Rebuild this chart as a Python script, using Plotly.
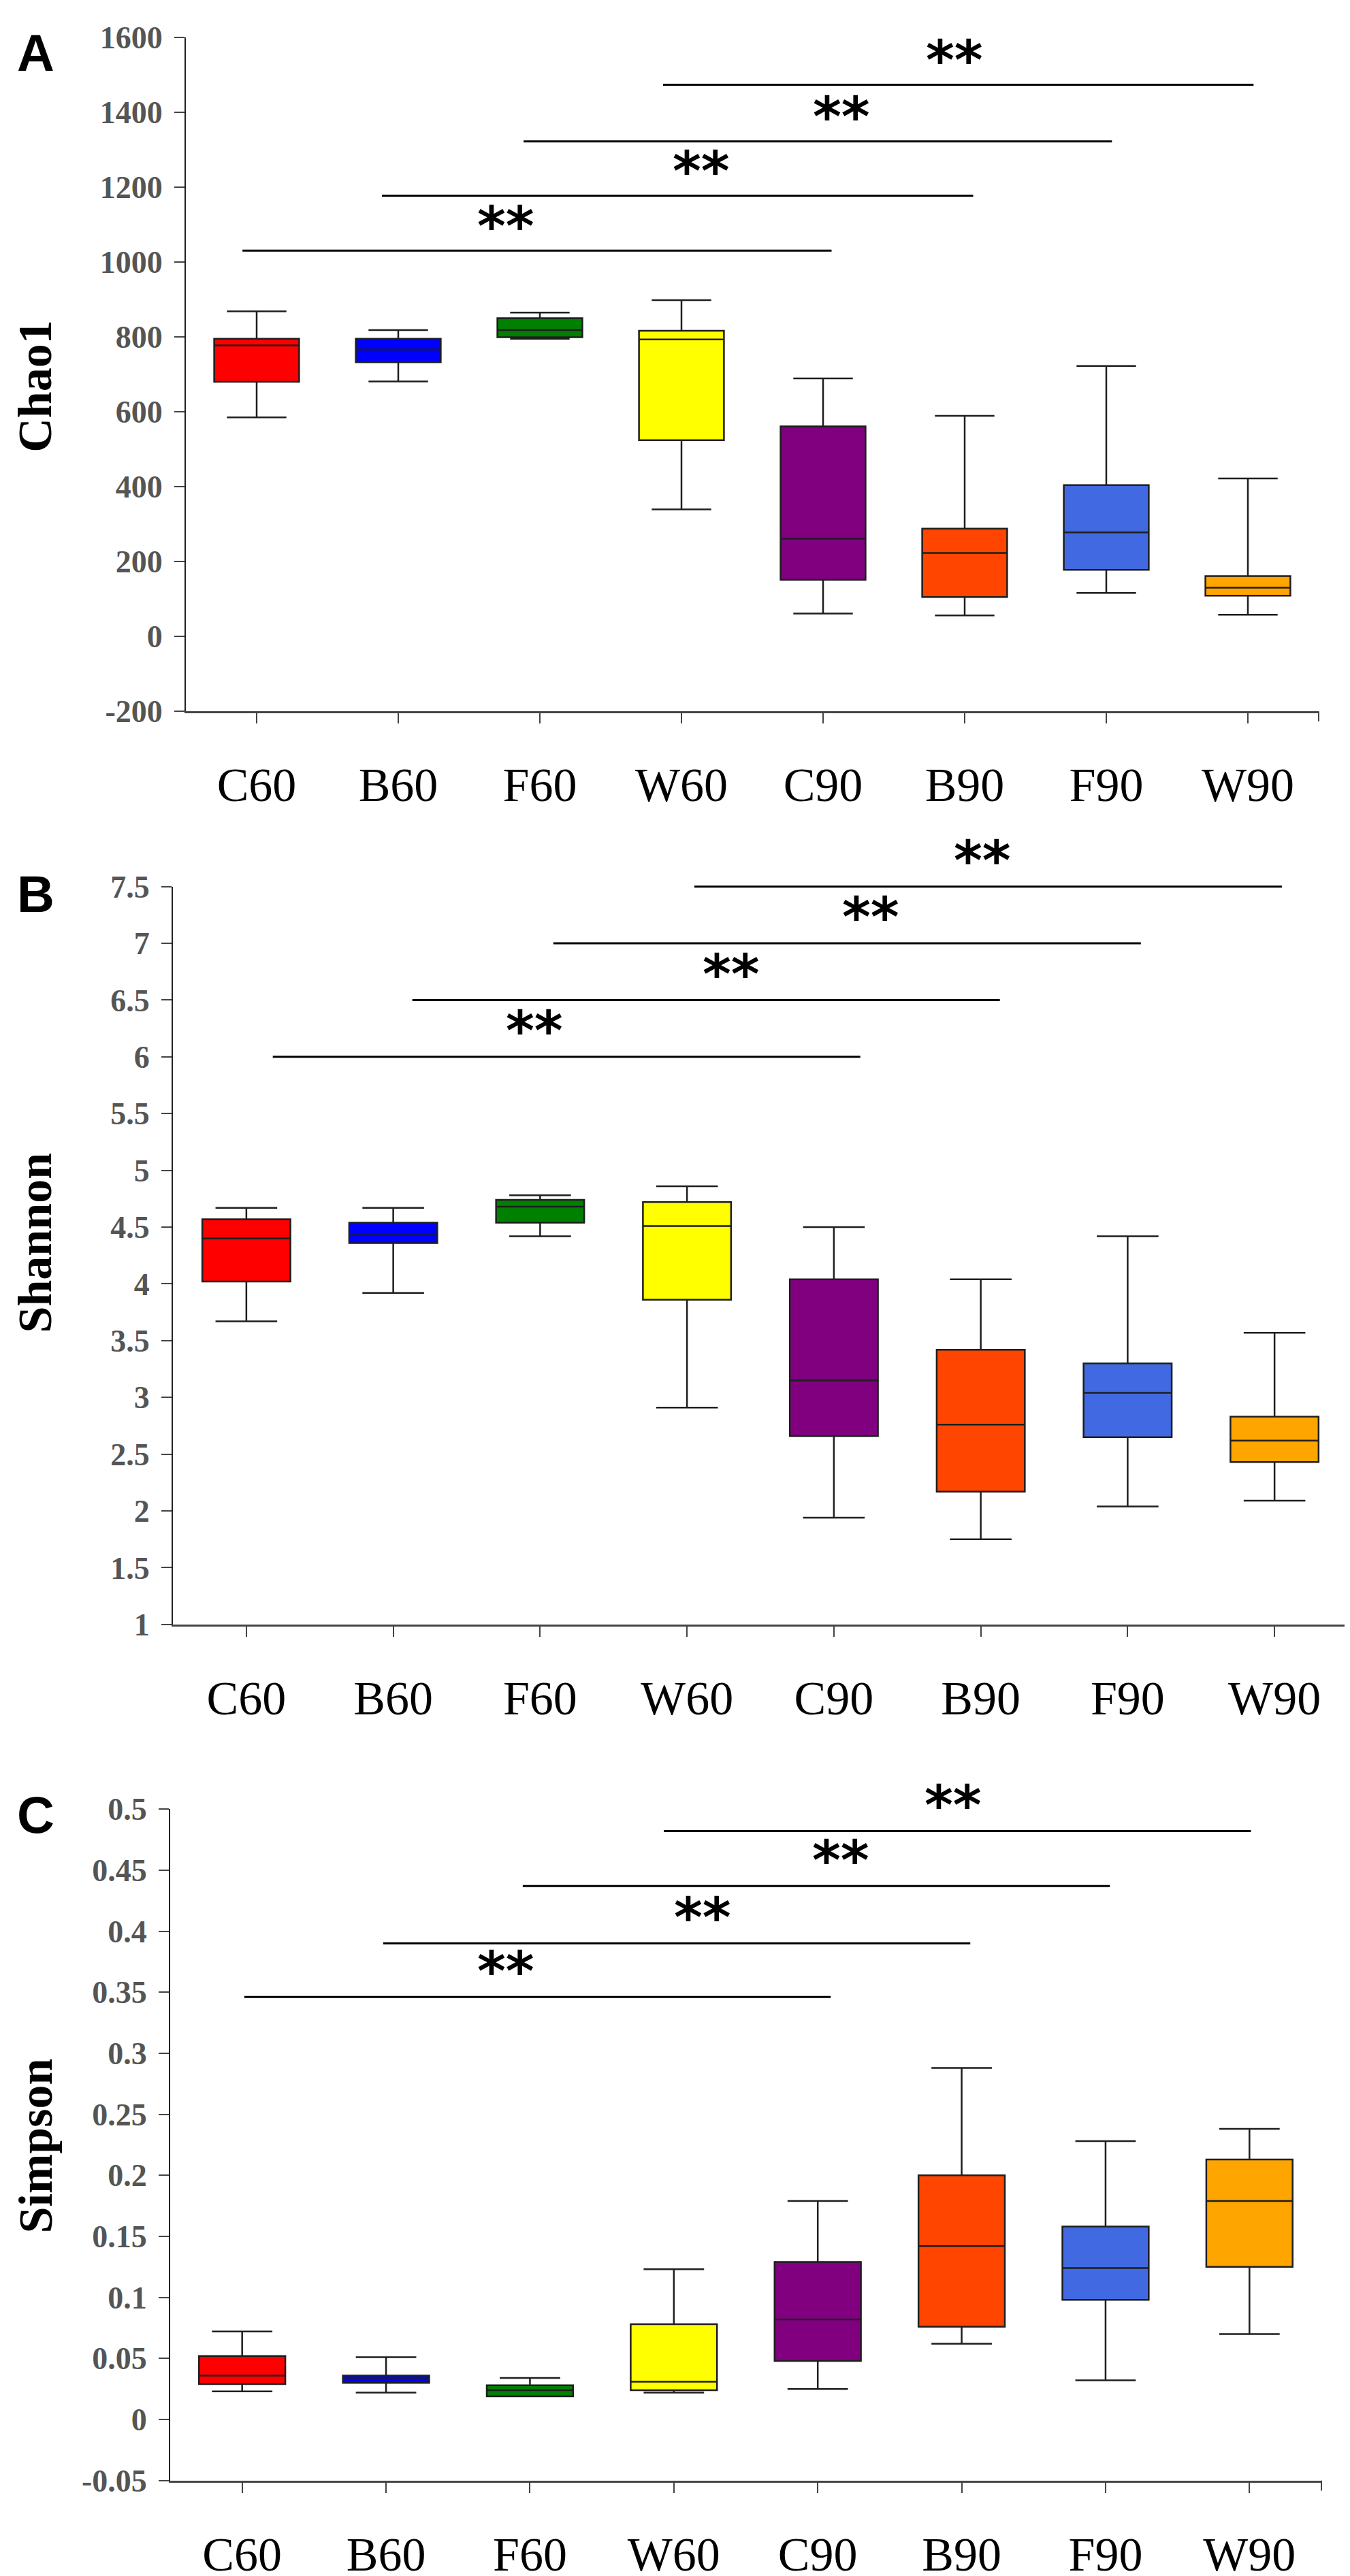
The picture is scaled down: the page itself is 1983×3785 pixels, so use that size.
import plotly.graph_objects as go

W, H = 1983, 3785

groups = ['C60', 'B60', 'F60', 'W60', 'C90', 'B90', 'F90', 'W90']
colors = ['#FF0000', '#0000FF', '#008000', '#FFFF00', '#800080', '#FF4500', '#4169E1', '#FFA500']

# Chao1 (panel A)
chao1_low = [585, 681, 795, 339, 61, 56, 116, 58]
chao1_q1 = [680, 732, 799, 524, 151, 105, 178, 109]
chao1_med = [777, 766, 818, 793, 261, 223, 278, 130]
chao1_q3 = [795, 795, 850, 816, 561, 288, 404, 161]
chao1_high = [868, 818, 865, 898, 689, 589, 722, 422]

# Shannon (panel B)
shannon_low = [3.67, 3.92, 4.42, 2.91, 1.94, 1.75, 2.04, 2.09]
shannon_q1 = [4.02, 4.36, 4.54, 3.86, 2.66, 2.17, 2.65, 2.43]
shannon_med = [4.40, 4.43, 4.68, 4.51, 3.15, 2.76, 3.04, 2.62]
shannon_q3 = [4.57, 4.54, 4.74, 4.72, 4.04, 3.42, 3.30, 2.83]
shannon_high = [4.67, 4.67, 4.78, 4.86, 4.50, 4.04, 4.42, 3.57]

# Simpson (panel C)
simpson_low = [0.023, 0.022, 0.019, 0.022, 0.025, 0.062, 0.032, 0.070]
simpson_q1 = [0.029, 0.030, 0.019, 0.024, 0.048, 0.076, 0.098, 0.125]
simpson_med = [0.036, 0.033, 0.024, 0.031, 0.082, 0.142, 0.124, 0.179]
simpson_q3 = [0.052, 0.036, 0.028, 0.078, 0.129, 0.200, 0.158, 0.213]
simpson_high = [0.072, 0.051, 0.034, 0.123, 0.179, 0.288, 0.228, 0.238]

# significance brackets: (from group, to group) pairs and the level of each line
pairs = [('C60', 'C90'), ('B60', 'B90'), ('F60', 'F90'), ('W60', 'W90')]
chao1_bracket_y = [1030, 1177, 1322, 1473]
shannon_bracket_y = [6.0, 6.5, 7.0, 7.5]
simpson_bracket_y = [0.346, 0.39, 0.437, 0.482]
sig_label = '**'

chao1_ticks = [-200, 0, 200, 400, 600, 800, 1000, 1200, 1400, 1600]
shannon_ticks = [1, 1.5, 2, 2.5, 3, 3.5, 4, 4.5, 5, 5.5, 6, 6.5, 7, 7.5]
shannon_ticktext = ['1', '1.5', '2', '2.5', '3', '3.5', '4', '4.5', '5', '5.5', '6', '6.5', '7', '7.5']
simpson_ticks = [-0.05, 0, 0.05, 0.1, 0.15, 0.2, 0.25, 0.3, 0.35, 0.4, 0.45, 0.5]
simpson_ticktext = ['-0.05', '0', '0.05', '0.1', '0.15', '0.2', '0.25', '0.3', '0.35', '0.4', '0.45', '0.5']

SERIF = 'Liberation Serif'
SANS = 'Liberation Sans'


def px_x(p):
    return p / W


def px_y(p):
    return 1 - p / H


panels = [
    dict(key='', title='Chao1', letter='A',
         stats=(chao1_low, chao1_q1, chao1_med, chao1_q3, chao1_high),
         yrange=[-200, 1600], tickvals=chao1_ticks, ticktext=[str(t) for t in chao1_ticks],
         brackets=chao1_bracket_y,
         # pixel box of the plot area: left, right, top, bottom
         box=(265, 1929, 22, 1026),
         bx=[(-0.10, 4.06), (0.885, 5.06), (1.885, 6.04), (2.87, 7.04)],
         star_x=[1.76, 3.14, 4.13, 4.93], star_dy=66,
         title_y=542, letter_y=45),
    dict(key='2', title='Shannon', letter='B',
         stats=(shannon_low, shannon_q1, shannon_med, shannon_q3, shannon_high),
         yrange=[1, 7.5], tickvals=shannon_ticks, ticktext=shannon_ticktext,
         brackets=shannon_bracket_y,
         box=(246, 1972, 1287, 2386),
         bx=[(0.18, 4.18), (1.13, 5.13), (2.09, 6.09), (3.05, 7.05)],
         star_x=[1.96, 3.30, 4.25, 5.01], star_dy=0.23,
         title_y=1818, letter_y=1298),
    dict(key='3', title='Simpson', letter='C',
         stats=(simpson_low, simpson_q1, simpson_med, simpson_q3, simpson_high),
         yrange=[-0.05, 0.5], tickvals=simpson_ticks, ticktext=simpson_ticktext,
         brackets=simpson_bracket_y,
         box=(242, 1933, 2661, 3661),
         bx=[(0.015, 4.09), (0.98, 5.06), (1.95, 6.03), (2.93, 7.01)],
         star_x=[1.83, 3.20, 4.16, 4.94], star_dy=0.021,
         title_y=3163, letter_y=2669),
]

fig = go.Figure()
shapes = []
annotations = []
layout = {}

for p in panels:
    xa, ya = 'x' + p['key'], 'y' + p['key']
    low, q1, med, q3, high = p['stats']
    for i, g in enumerate(groups):
        fig.add_trace(go.Box(
            x=[g], lowerfence=[low[i]], q1=[q1[i]], median=[med[i]], q3=[q3[i]], upperfence=[high[i]],
            orientation='v', fillcolor=colors[i], line=dict(color='#1e1e1e', width=2.5),
            width=0.6, whiskerwidth=0.7, showlegend=False, xaxis=xa, yaxis=ya,
        ))

    left, right, top, bottom = p['box']
    xd = [px_x(left), px_x(right)]
    yd = [px_y(bottom), px_y(top)]
    r0, r1 = p['yrange']
    layout['xaxis' + p['key']] = dict(
        domain=xd, anchor=ya, type='category',
        categoryorder='array', categoryarray=groups, range=[-0.5, 7.5],
        showline=True, linecolor='#444', linewidth=3, ticks='outside', ticklen=15,
        tickwidth=2, tickcolor='#444', showgrid=False, zeroline=False,
        tickfont=dict(family=SERIF, size=70, color='#000'), ticklabelstandoff=30,
    )
    layout['yaxis' + p['key']] = dict(
        domain=yd, anchor=xa, range=p['yrange'],
        tickvals=p['tickvals'], ticktext=p['ticktext'],
        showline=True, linecolor='#222', linewidth=2, ticks='outside', ticklen=15,
        tickwidth=2, tickcolor='#444', showgrid=False, zeroline=False,
        tickfont=dict(family=SERIF, size=46, color='#555', weight='bold'), ticklabelstandoff=8,
    )

    # brackets and stars go in paper space so nothing is clipped at the plot edge
    def to_px(c):
        return xd[0] + (c + 0.5) / 8 * (xd[1] - xd[0])

    def to_py(v):
        return yd[0] + (v - r0) / (r1 - r0) * (yd[1] - yd[0])

    # end tick at the right of the x axis
    shapes.append(dict(type='line', xref='paper', yref='paper', x0=xd[1], x1=xd[1], y0=yd[0],
                       y1=yd[0] - 15 / H, line=dict(color='#444', width=2)))

    for (x0, x1), yv, sx in zip(p['bx'], p['brackets'], p['star_x']):
        shapes.append(dict(type='line', xref='paper', yref='paper', x0=to_px(x0), x1=to_px(x1),
                           y0=to_py(yv), y1=to_py(yv), line=dict(color='#000', width=3)))
        annotations.append(dict(xref='paper', yref='paper', x=to_px(sx), y=to_py(yv + p['star_dy']),
                                text=sig_label, showarrow=False, xanchor='center', yanchor='middle',
                                font=dict(family='DejaVu Sans', size=80, color='#000', weight='bold')))

    annotations.append(dict(xref='paper', yref='paper', x=px_x(44), y=px_y(p['title_y']),
                            text=p['title'], textangle=-90, showarrow=False,
                            xanchor='center', yanchor='middle',
                            font=dict(family=SERIF, size=70, color='#000', weight='bold')))
    annotations.append(dict(xref='paper', yref='paper', x=px_x(44), y=px_y(p['letter_y']),
                            text=p['letter'], showarrow=False, xanchor='center', yanchor='middle',
                            font=dict(family=SANS, size=76, color='#000', weight='bold')))

fig.update_layout(
    width=W, height=H, margin=dict(l=0, r=0, t=0, b=0),
    paper_bgcolor='white', plot_bgcolor='white', boxmode='overlay',
    shapes=shapes, annotations=annotations, **layout,
)

fig.write_html("out.html")
